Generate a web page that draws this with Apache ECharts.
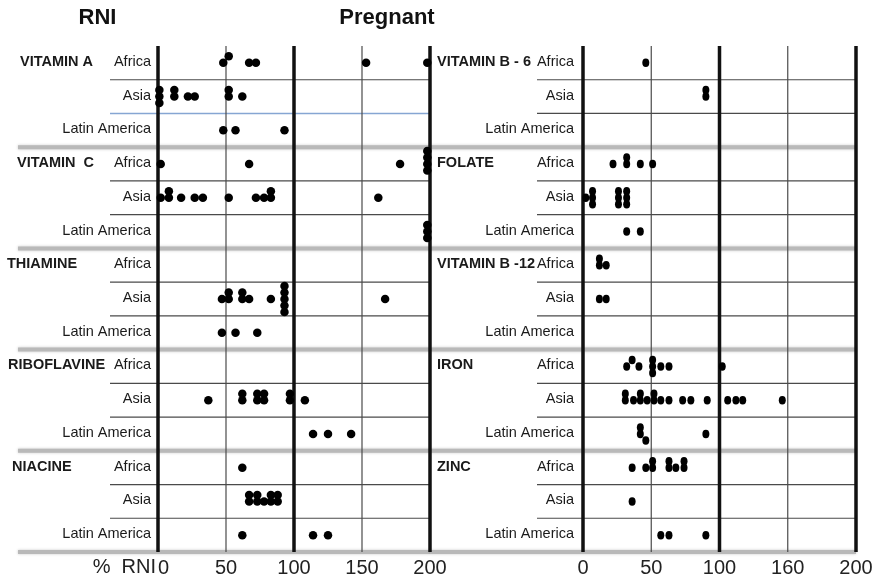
<!DOCTYPE html>
<html>
<head>
<meta charset="utf-8">
<title>RNI – Pregnant</title>
<script src="https://cdn.jsdelivr.net/npm/echarts@6/dist/echarts.min.js"></script>
<style>
  html, body { margin: 0; padding: 0; background: #ffffff; }
  #chart { width: 878px; height: 580px; }
</style>
</head>
<body>
<div id="chart"></div>
<script>
// ---- categories and tick labels ----
const regions = ['Africa', 'Asia', 'Latin America'];
const leftNutrients = ['VITAMIN A', 'VITAMIN  C', 'THIAMINE', 'RIBOFLAVINE', 'NIACINE'];
const rightNutrients = ['VITAMIN B - 6', 'FOLATE', 'VITAMIN B -12', 'IRON', 'ZINC'];
const tickValues = [0, 50, 100, 150, 200];
const leftTickLabels = ['0', '50', '100', '150', '200'];
const rightTickLabels = ['0', '50', '100', '160', '200'];
const axisUnitLabel = '%  RNI';

// ---- % of RNI covered, one list per study: [Africa, Asia, Latin America] ----
const vitaminA    = [[48, 52, 67, 72, 153, 198], [1, 1, 1, 12, 12, 22, 27, 52, 52, 62], [48, 57, 93]];
const vitaminC    = [[2, 67, 178, 198, 198, 198, 198], [2, 8, 8, 17, 27, 33, 52, 72, 78, 83, 83, 162], [198, 198, 198]];
const thiamine    = [[], [47, 52, 52, 62, 62, 67, 83, 93, 93, 93, 93, 93, 167], [47, 57, 73]];
const riboflavine = [[], [37, 62, 62, 73, 73, 78, 78, 97, 97, 108], [114, 125, 142]];
const niacine     = [[62], [67, 67, 73, 73, 78, 83, 83, 88, 88], [62, 114, 125]];

const vitaminB6   = [[46], [90, 90], []];
const folate      = [[22, 32, 32, 42, 51], [2, 7, 7, 7, 26, 26, 26, 32, 32, 32], [32, 42]];
const vitaminB12  = [[12, 12, 17], [12, 17], []];
const iron        = [[32, 36, 41, 51, 51, 51, 57, 63, 102],
                     [31, 31, 37, 42, 42, 47, 52, 52, 57, 63, 73, 79, 91, 106, 112, 117, 146],
                     [42, 42, 46, 90]];
const zinc        = [[36, 46, 51, 51, 63, 63, 68, 74, 74], [36], [57, 63, 90]];

const leftData = [vitaminA, vitaminC, thiamine, riboflavine, niacine];
const rightData = [vitaminB6, folate, vitaminB12, iron, zinc];

// ---- layout ----
const FONT = '"Liberation Sans", Arial, Helvetica, sans-serif';
const GRID_TOP = 46;
const GRID_HEIGHT = 506;
const ROWS = 15;
const ROW_PX = GRID_HEIGHT / ROWS;
const X_MAX = 200;
const SWARM_STEP = 6.5;   // px between stacked dots
const SWARM_GAP = 6.5;    // px minimum distance between dot centres

const panels = [
  {
    nutrients: leftNutrients, data: leftData, ticks: leftTickLabels,
    grid: { left: 158, width: 272 },
    labelGap: 7, groupX: [20, 17, 7, 8, 12],
    lineStart: 110, sepStart: 18, accentRow: 1,
    dotSize: [8.5, 8.5], unitLabel: axisUnitLabel
  },
  {
    nutrients: rightNutrients, data: rightData, ticks: rightTickLabels,
    grid: { left: 583, width: 273 },
    labelGap: 9, groupX: [437, 437, 437, 437, 437],
    lineStart: 537, sepStart: 430, accentRow: -1,
    dotSize: [7, 8.5], unitLabel: ''
  }
];

// Simple beeswarm: dots keep their value on x and are pushed up/down
// within the row until they no longer collide with earlier dots.
function swarm(values, pxPerUnit) {
  const placed = [];
  return values.slice().sort((a, b) => a - b).map(v => {
    const x = v * pxPerUnit;
    for (let k = 0; k < 50; k++) {
      const off = k === 0 ? 0 : (k % 2 ? -1 : 1) * Math.ceil(k / 2) * SWARM_STEP;
      const free = placed.every(p => Math.hypot(p[0] - x, p[1] - off) >= SWARM_GAP - 1e-6);
      if (free) { placed.push([x, off]); return [v, off / ROW_PX]; }
    }
    return [v, 0];
  });
}

function dotsFor(panel) {
  const pxPerUnit = panel.grid.width / X_MAX;
  const out = [];
  panel.data.forEach((nutrient, g) => {
    nutrient.forEach((values, r) => {
      const row = g * 3 + r;
      swarm(values, pxPerUnit).forEach(([v, dy]) => out.push([v, row + 0.5 + dy]));
    });
  });
  return out;
}

function textStyle(text, font, align) {
  return {
    text, font, fill: '#1a1a1a',
    textAlign: align, textVerticalAlign: 'middle', align, verticalAlign: 'middle'
  };
}

function frameRenderer(panel) {
  return function (params, api) {
    const row = params.dataIndex;
    const regionIdx = row % 3;
    const groupIdx = Math.floor(row / 3);
    const center = api.coord([0, row + 0.5]);
    const bottomY = api.coord([0, row + 1])[1];
    const endX = api.coord([X_MAX, row + 1])[0];
    const children = [];

    children.push({
      type: 'text', x: center[0] - panel.labelGap, y: center[1] - 1, z2: 20,
      style: textStyle(regions[regionIdx], '14.5px ' + FONT, 'right')
    });
    if (regionIdx === 0) {
      children.push({
        type: 'text', x: panel.groupX[groupIdx], y: center[1] - 1, z2: 20,
        style: textStyle(panel.nutrients[groupIdx], 'bold 14.5px ' + FONT, 'left')
      });
    }

    if (regionIdx === 2) {
      children.push({
        type: 'line', z2: 1,
        shape: { x1: panel.sepStart, y1: bottomY, x2: endX, y2: bottomY },
        style: { stroke: '#b9b9b9', lineWidth: 4, shadowBlur: 3, shadowColor: 'rgba(0,0,0,0.22)' }
      });
    } else {
      const accent = row === panel.accentRow;
      children.push({
        type: 'line', z2: 2,
        shape: { x1: panel.lineStart, y1: bottomY, x2: endX, y2: bottomY },
        style: { stroke: accent ? '#86a6d3' : '#4a4a4a', lineWidth: accent ? 1.5 : 1.2 }
      });
    }

    if (row === 0) {
      const yTop = api.coord([0, 0])[1];
      const yBot = api.coord([0, ROWS])[1];
      tickValues.forEach(v => {
        const x = api.coord([v, 0])[0];
        const major = v % 100 === 0;
        children.push({
          type: 'line', z2: 10,
          shape: { x1: x, y1: yTop, x2: x, y2: yBot },
          style: { stroke: major ? '#111' : '#4a4a4a', lineWidth: major ? 3.5 : 1.2 }
        });
      });
      if (panel.unitLabel) {
        const s = textStyle(panel.unitLabel, '20px ' + FONT, 'right');
        s.fill = '#222';
        children.push({ type: 'text', x: api.coord([0, 0])[0] - 2, y: yBot + 15, z2: 20, style: s });
      }
    }
    return { type: 'group', children };
  };
}

const chart = echarts.init(document.getElementById('chart'));

const titleStyle = { fontFamily: FONT, fontSize: 22, fontWeight: 'bold', color: '#111' };

const option = {
  animation: false,
  backgroundColor: '#ffffff',
  title: [
    { text: 'RNI', left: 97.5, top: 7, padding: 0, textAlign: 'center', textStyle: titleStyle },
    { text: 'Pregnant', left: 387, top: 7, padding: 0, textAlign: 'center', textStyle: titleStyle }
  ],
  grid: panels.map(p => ({ left: p.grid.left, width: p.grid.width, top: GRID_TOP, height: GRID_HEIGHT })),
  xAxis: panels.map((p, i) => ({
    type: 'value', gridIndex: i, min: 0, max: X_MAX, interval: 50, position: 'bottom',
    axisLine: { show: false, onZero: false }, axisTick: { show: false }, splitLine: { show: false },
    axisLabel: {
      fontFamily: FONT, fontSize: 20, color: '#222', margin: 6,
      alignMinLabel: i === 0 ? 'left' : 'center',
      formatter: v => p.ticks[tickValues.indexOf(v)] ?? ''
    }
  })),
  yAxis: panels.map((p, i) => ({
    type: 'value', gridIndex: i, min: 0, max: ROWS, inverse: true, show: false
  })),
  series: []
};

panels.forEach((p, i) => {
  option.series.push({
    type: 'custom', xAxisIndex: i, yAxisIndex: i, z: 1, clip: false, silent: true,
    encode: { x: 0, y: 1 },
    data: Array.from({ length: ROWS }, (_, r) => [0, r + 0.5]),
    renderItem: frameRenderer(p)
  });
  option.series.push({
    type: 'scatter', xAxisIndex: i, yAxisIndex: i, z: 3, silent: true,
    symbol: 'circle', symbolSize: p.dotSize,
    itemStyle: { color: '#000', opacity: 1 },
    data: dotsFor(p)
  });
});

chart.setOption(option);
</script>
</body>
</html>
